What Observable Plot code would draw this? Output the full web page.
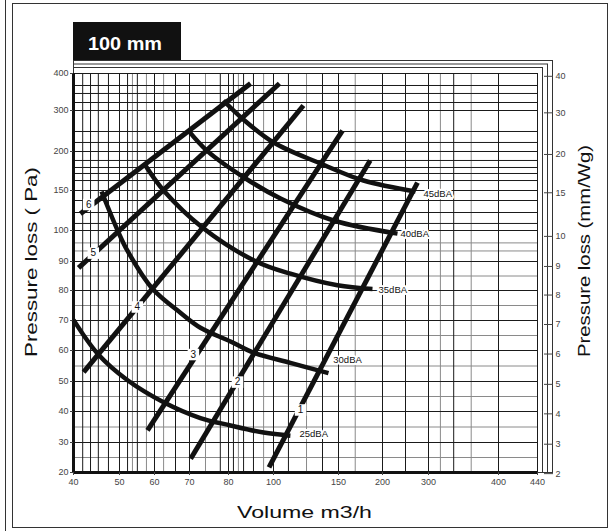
<!DOCTYPE html>
<html>
<head>
<meta charset="utf-8">
<script src="https://cdn.jsdelivr.net/npm/d3@7"></script>
<script src="https://cdn.jsdelivr.net/npm/@observablehq/plot@0.6"></script>
<style>
  body { margin: 0; background: #fff; }
</style>
</head>
<body>
<div id="chart"></div>
<script>
// ---------- data ----------
const xTicks = [40, 50, 60, 70, 80, 100, 150, 200, 300, 400, 440];
const yTicks = [20, 30, 40, 50, 60, 70, 80, 90, 100, 150, 200, 300, 400];
const mmWgTicks = [2, 3, 4, 5, 6, 7, 8, 9, 10, 15, 20, 30, 40];
const PA_PER_MMWG = 9.81;

const xGridMajor = [42, 43.7, 45.4, 47.6, 50, 52.3, 55.1, 60, 66, 70, 77.9, 80, 82.2, 86.7, 91.1, 100, 111.5, 137.7, 150, 200, 250, 300, 336, 400];
const xGridMinor = [53.7, 57.7, 62.6, 74.1, 84.4, 95.6, 125.4, 169, 317, 361];
const yGridMajor = [30, 40, 50, 60, 70, 80, 90, 100, 108.8, 122.5, 137.5, 150, 162.8, 171.8, 179.5, 188.5, 200, 222, 248.8, 300, 321.6, 346, 367.6];
const yGridMinor = [25, 35, 45, 55, 65, 75, 85, 93.4, 96];

const damperIds = ["1", "2", "3", "4", "5", "6"];
const damperFrom = [[98, 21.7], [70.3, 24.6], [58, 33.9], [42.2, 53], [41.1, 87.8], [41.5, 121]];
const damperTo = [[276, 160], [186, 188.5], [154.5, 251], [123, 313.5], [104.6, 373], [89.8, 373]];
const damperLabelAt = [[120.8, 40.5], [84, 49.8], [71, 58.7], [55.1, 74.5], [44.3, 92.7], [43.3, 132.5]];

const dbaNames = ["25dBA", "30dBA", "35dBA", "40dBA", "45dBA"];
const dba25 = [[40, 70.2], [45.4, 58.7], [52.3, 50.4], [62.6, 43.1], [72.8, 37.9], [80.9, 35.5], [95.6, 33.2], [113, 32.2]];
const dba30 = [[46.1, 148.8], [49.6, 100], [52.3, 93.4], [59.5, 80.5], [67.4, 72.6], [72.8, 67.6], [80.9, 63], [91.1, 59.3], [113, 56], [142.3, 52.7]];
const dba35 = [[57.4, 182], [62.6, 150], [73.3, 103.8], [92, 90.1], [113, 85.8], [149.2, 81.8], [188.6, 80.5]];
const dba40 = [[69.7, 251], [74.6, 201], [87.6, 165.4], [105.4, 140], [146.2, 112.5], [232.6, 99]];
const dba45 = [[78.7, 327], [86.2, 280], [100, 222], [136.2, 184.6], [178.4, 162.8], [271.7, 148.8]];
const dbaLabelAt = [[120, 32.9], [146, 57], [195.5, 80.2], [239, 99], [289, 146]];

// ---------- tables for the marks ----------
const damperRows = damperIds.flatMap((id, i) => [
  {x: damperFrom[i][0], y: damperFrom[i][1], id},
  {x: damperTo[i][0], y: damperTo[i][1], id}
]);
const damperLabels = damperIds.map((id, i) => ({x: damperLabelAt[i][0], y: damperLabelAt[i][1], id}));
const dbaCurves = [dba25, dba30, dba35, dba40, dba45];
const curveRows = dbaCurves.flatMap((pts, i) => pts.map(([x, y]) => ({x, y, level: dbaNames[i]})));
const dbaLabels = dbaNames.map((name, i) => ({x: dbaLabelAt[i][0], y: dbaLabelAt[i][1], name}));

const FONT = "Liberation Sans, Arial, sans-serif";

const chart = Plot.plot({
  width: 614,
  height: 531,
  marginLeft: 73,
  marginRight: 77,
  marginTop: 73,
  marginBottom: 59,
  style: {fontFamily: FONT, fontSize: "9px", background: "white"},
  x: {type: "linear", domain: xTicks, range: [73, 119, 154, 189, 228, 273, 338, 382, 428, 498, 537]},
  y: {type: "linear", domain: yTicks, range: [472, 442, 411, 381, 350, 320, 290, 261, 230, 190, 151, 110, 73]},
  marks: [
    Plot.ruleX(xGridMinor, {stroke: "#8a8a8a", strokeWidth: 1}),
    Plot.ruleY(yGridMinor, {stroke: "#8a8a8a", strokeWidth: 1}),
    Plot.ruleX(xGridMajor, {stroke: "#1a1a1a", strokeWidth: 1}),
    Plot.ruleY(yGridMajor, {stroke: "#1a1a1a", strokeWidth: 1}),
    Plot.frame({stroke: "#1a1a1a"}),
    Plot.frame({stroke: "#333", insetTop: -6, insetRight: -5}),
    Plot.frame({stroke: "#333", insetTop: -9.5, insetRight: -10}),
    Plot.frame({stroke: "#333", insetTop: -13, insetRight: -15}),
    Plot.ruleX([40], {stroke: "#111", strokeWidth: 3}),
    Plot.ruleY([20], {stroke: "#111", strokeWidth: 3}),
    Plot.axisX(xTicks, {anchor: "bottom", label: null, tickSize: 3, tickPadding: 3, color: "#444", fontSize: 9}),
    Plot.axisY(yTicks, {anchor: "left", label: null, tickSize: 3, tickPadding: 2, color: "#444", fontSize: 9}),
    Plot.axisY(mmWgTicks.map(d => d * PA_PER_MMWG), {
      anchor: "right", label: null, tickSize: 9, dx: 6, tickPadding: 3, color: "#444", fontSize: 9,
      tickFormat: d => String(Math.round(d / PA_PER_MMWG))
    }),
    Plot.line(damperRows, {x: "x", y: "y", z: "id", stroke: "#111", strokeWidth: 5, strokeLinecap: "butt"}),
    Plot.line(curveRows, {x: "x", y: "y", z: "level", curve: "catmull-rom", stroke: "#111", strokeWidth: 4.5, strokeLinecap: "butt"}),
    Plot.dot(damperLabels, {x: "x", y: "y", symbol: "square", r: 6.5, fill: "white", stroke: null}),
    Plot.text(damperLabels, {x: "x", y: "y", text: "id", fill: "#111", fontSize: 10, fontFamily: FONT}),
    Plot.text(dbaLabels, {x: "x", y: "y", text: "name", textAnchor: "start", fill: "#111", stroke: "white", strokeWidth: 4, fontSize: 9.5, fontFamily: FONT})
  ]
});

document.getElementById("chart").appendChild(chart);

// ---------- page decorations: border, title box, axis titles ----------
const svg = d3.select(chart);
svg.append("rect").attr("x", 12.5).attr("y", 3.5).attr("width", 595).attr("height", 524)
  .attr("fill", "none").attr("stroke", "#333").attr("stroke-width", 1);
svg.append("line").attr("x1", 5.5).attr("x2", 5.5).attr("y1", 0).attr("y2", 531)
  .attr("stroke", "#333").attr("stroke-width", 1);
svg.append("rect").attr("x", 73).attr("y", 22).attr("width", 108).attr("height", 38).attr("fill", "#111");
svg.append("text").attr("x", 88).attr("y", 50).attr("fill", "white").attr("text-anchor", "start")
  .attr("font-family", FONT).attr("font-weight", "bold").attr("font-size", 19)
  .attr("textLength", 74).attr("lengthAdjust", "spacingAndGlyphs").text("100 mm");
svg.append("text").attr("x", 304.5).attr("y", 518).attr("text-anchor", "middle")
  .attr("font-family", FONT).attr("font-size", 17).attr("fill", "#111")
  .attr("textLength", 135).attr("lengthAdjust", "spacingAndGlyphs").text("Volume m3/h");
svg.append("text").attr("transform", "translate(37,262) rotate(-90)").attr("text-anchor", "middle")
  .attr("font-family", FONT).attr("font-size", 17).attr("fill", "#111")
  .attr("textLength", 190).attr("lengthAdjust", "spacingAndGlyphs").text("Pressure loss ( Pa)");
svg.append("text").attr("transform", "translate(590,251) rotate(-90)").attr("text-anchor", "middle")
  .attr("font-family", FONT).attr("font-size", 17).attr("fill", "#111")
  .attr("textLength", 212).attr("lengthAdjust", "spacingAndGlyphs").text("Pressure loss (mm/Wg)");
</script>
</body>
</html>
